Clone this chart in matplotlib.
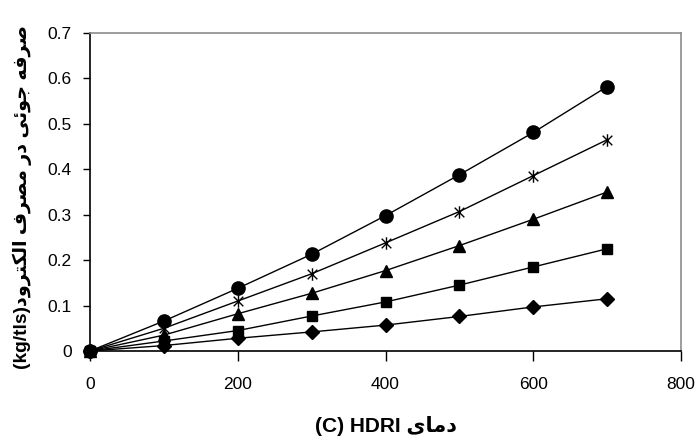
import matplotlib
matplotlib.use("Agg")
import matplotlib.pyplot as plt
from matplotlib.path import Path

# دمای HDRI (C)
temps = [0, 100, 200, 300, 400, 500, 600, 700]

# five series (kg/tls)
circle_vals = [0, 0.066, 0.138, 0.213, 0.298, 0.388, 0.481, 0.582]
star_vals = [0, 0.050, 0.110, 0.170, 0.238, 0.307, 0.386, 0.465]
tri_vals = [0, 0.035, 0.082, 0.127, 0.177, 0.232, 0.290, 0.350]
square_vals = [0, 0.022, 0.045, 0.077, 0.108, 0.145, 0.185, 0.225]
diamond_vals = [0, 0.012, 0.028, 0.042, 0.057, 0.076, 0.097, 0.115]

x_ticks = [0, 200, 400, 600, 800]
y_ticks = [0, 0.1, 0.2, 0.3, 0.4, 0.5, 0.6, 0.7]
y_tick_labels = ["0", "0.1", "0.2", "0.3", "0.4", "0.5", "0.6", "0.7"]

# arabic text written in visual order with presentation forms (no shaping in matplotlib)
x_label = "(C) HDRI " + "\uFEEF\uFE8E\uFEE3\uFEA9"
y_label = ("(kg/tls)" + "\uFEA9\uFEED\uFEAE\uFE98\uFEDC\uFEDF\uFE8D" + " "
           + "\uFED1\uFEAE\uFEBC\uFEE3" + " " + "\uFEAD\uFEA9" + " "
           + "\uFEF0\uFE8B\uFEEE\uFE9F" + " " + "\uFEEA\uFED3\uFEAE\uFEBB")

fonts = ["Liberation Sans", "DejaVu Sans"]
plt.rcParams["font.family"] = fonts

# excel style asterisk marker
star = Path([(-1, -1), (1, 1), (-1, 1), (1, -1), (0, -1.3), (0, 1.3)],
            [Path.MOVETO, Path.LINETO, Path.MOVETO, Path.LINETO, Path.MOVETO, Path.LINETO])

fig = plt.figure(figsize=(6.99, 4.41), dpi=100)
ax = fig.add_axes([0.1288, 0.2041, 0.8455, 0.7211])

kw = dict(color="black", lw=1.0, clip_on=False)
ax.plot(temps, diamond_vals, marker="D", ms=7, **kw)
ax.plot(temps, square_vals, marker="s", ms=6.5, **kw)
ax.plot(temps, tri_vals, marker="^", ms=8, **kw)
ax.plot(temps, star_vals, marker=star, ms=9, mew=1.0, **kw)
ax.plot(temps, circle_vals, marker="o", ms=9.5, **kw)

ax.set_xlim(0, 800)
ax.set_ylim(0, 0.7)
ax.set_xticks(x_ticks)
ax.set_yticks(y_ticks)
ax.set_yticklabels(y_tick_labels)
ax.tick_params(direction="out", length=5, width=1, labelsize=12.5, pad=8)
ax.tick_params(axis="x", length=7, pad=12)

for side in ["left", "bottom"]:
    ax.spines[side].set_color("black")
    ax.spines[side].set_linewidth(1.2)
for side in ["top", "right"]:
    ax.spines[side].set_color("#8c8c8c")
    ax.spines[side].set_linewidth(1.2)

ax.set_xlabel(x_label, fontsize=15, fontweight="bold", labelpad=17)
ax.set_ylabel(y_label, fontsize=13.8, fontweight="bold")
ax.yaxis.set_label_coords(-0.098, 0.485)

fig.savefig("out.png", dpi=100)
